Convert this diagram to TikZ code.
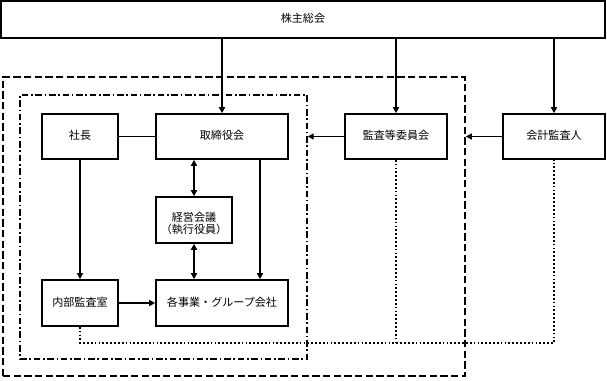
\documentclass[tikz,border=0pt]{standalone}
\usepackage{fontspec}
\newfontfamily\jp{Noto Sans CJK JP}
\usetikzlibrary{arrows.meta,fit}
\newcommand{\boxtext}[1]{\raisebox{-5.3pt}{#1}}
\newcommand{\jpsetup}{\jp\fontsize{8.3}{8.8}\selectfont}
\begin{document}
\begin{tikzpicture}[x=0.75pt,y=-0.75pt,
  jpfont/.style={font=\jpsetup},
  box/.style={draw,line width=1.2pt,inner sep=0pt,fill=white,jpfont},
  conn/.style={line width=1.1pt},
  arr/.style={conn,-{Triangle[length=4.5pt,width=4.5pt]}},
  darr/.style={conn,{Triangle[length=4.5pt,width=4.5pt]}-{Triangle[length=4.5pt,width=4.5pt]}},
  outerframe/.style={draw,line width=1.2pt,dash pattern=on 5.5pt off 2.5pt,inner sep=0pt},
  innerframe/.style={draw,line width=1.1pt,dash pattern=on 5pt off 2pt on 1.2pt off 2pt,inner sep=0pt},
  dotline/.style={line width=1.1pt,dash pattern=on 1.3pt off 1.6pt}]
\useasboundingbox (0,0) rectangle (607,380);
\fill[white] (0,0) rectangle (607,380);
% frames
\node[outerframe,fit={(3,77) (465,376)}] (outer) {};
\node[innerframe,fit={(20,95) (307,359)}] (inner) {};
% boxes
\node[box,fit={(1,1) (605,38)}] (kabunushi) {\boxtext{株主総会}};
\node[box,fit={(42,114) (118,159)}] (shacho) {\boxtext{社長}};
\node[box,fit={(156,114) (288,159)}] (torishimari) {\boxtext{取締役会}};
\node[box,fit={(156,197) (232,243)}] (keiei) {};
\node[jpfont,align=center,inner sep=0pt] (keieitext) at ([yshift=-2.5pt]keiei.center) {経営会議\\（執行役員）};
\node[box,fit={(42,280) (118,326)}] (naibu) {\boxtext{内部監査室}};
\node[box,fit={(156,280) (288,326)}] (kakujigyo) {\boxtext{各事業・グループ会社}};
\node[box,fit={(345,114) (447,159)}] (kansa) {\boxtext{監査等委員会}};
\node[box,fit={(503,114) (605,159)}] (kaikei) {\boxtext{会計監査人}};
\coordinate (c260) at (260,0);
\coordinate (dy) at (0,343);
% connectors
\draw[arr] (kabunushi.south -| torishimari.north) -- (torishimari.north);
\draw[arr] (kabunushi.south -| kansa.north) -- (kansa.north);
\draw[arr] (kabunushi.south -| kaikei.north) -- (kaikei.north);
\draw[conn] (shacho.east) -- (torishimari.west);
\draw[arr] (shacho.south) -- (naibu.north);
\draw[darr] (torishimari.south -| keiei.north) -- (keiei.north);
\draw[darr] (keiei.south) -- (kakujigyo.north -| keiei.south);
\draw[arr] (torishimari.south -| c260) -- (kakujigyo.north -| c260);
\draw[arr] (naibu.east) -- (kakujigyo.west);
\draw[arr] (kansa.west) -- (inner.east |- kansa.west);
\draw[arr] (kaikei.west) -- (outer.east |- kaikei.west);
% dotted audit lines
\draw[dotline] (naibu.south) -- (naibu.south |- dy) -| (kaikei.south);
\draw[dotline] (kansa.south) -- (kansa.south |- dy);
\end{tikzpicture}
\end{document}
